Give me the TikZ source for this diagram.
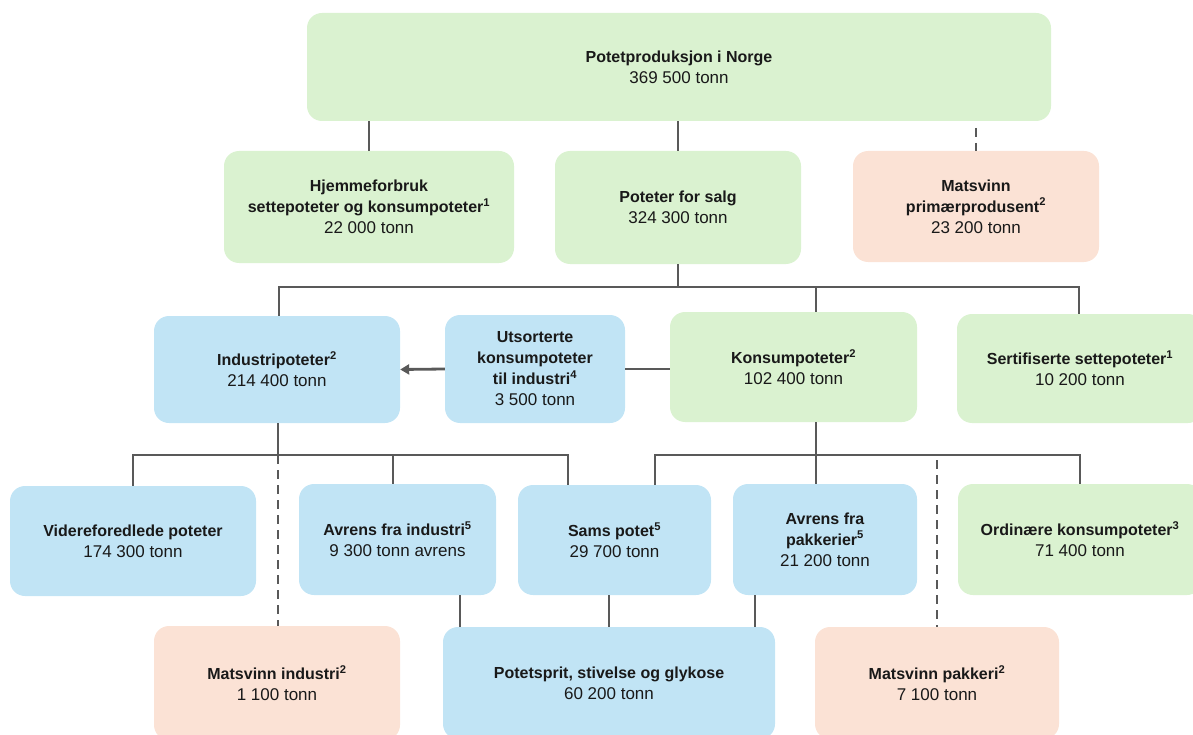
\documentclass[tikz,border=0pt]{standalone}
\usepackage{fontspec}
\setmainfont{Liberation Sans}
\usetikzlibrary{arrows.meta,calc}
\definecolor{gfill}{HTML}{DAF2D0}
\definecolor{bfill}{HTML}{C1E4F5}
\definecolor{ofill}{HTML}{FBE2D5}
\definecolor{lin}{HTML}{595959}
\newcommand{\msup}[1]{\textsuperscript{#1}}
\newcommand{\val}[1]{{\fontsize{17}{21}\selectfont #1}}
\begin{document}
\begin{tikzpicture}[x=1pt,y=-1pt,
  box/.style={rectangle, rounded corners=15pt, inner sep=0pt, align=center,
    font=\fontsize{16}{21}\selectfont, text=black!90},
  gbx/.style={box, fill=gfill},
  bbx/.style={box, fill=bfill},
  obx/.style={box, fill=ofill},
  conn/.style={draw=lin, line width=2.8pt},
  dconn/.style={conn, dash pattern=on 9pt off 6pt}]
\useasboundingbox (0,0) rectangle (1193,735);
\clip (0,0) rectangle (1193,735);

% row 1
\node[gbx, minimum width=744pt, minimum height=108pt] (top) at (679,67)
  {\textbf{Potetproduksjon i Norge}\\\val{369 500 tonn}};
% row 2
\node[gbx, minimum width=290pt, minimum height=112pt] (hjem) at (369,207)
  {\textbf{Hjemmeforbruk}\\\textbf{settepoteter og konsumpoteter\msup{1}}\\\val{22 000 tonn}};
\node[gbx, minimum width=246pt, minimum height=113pt] (salg) at (678,207.5)
  {\textbf{Poteter for salg}\\\val{324 300 tonn}};
\node[obx, minimum width=246pt, minimum height=111pt] (msprim) at (976,206.5)
  {\textbf{Matsvinn}\\\textbf{primærprodusent\msup{2}}\\\val{23 200 tonn}};
% row 3
\node[bbx, minimum width=246pt, minimum height=107pt] (indu) at (277,369.5)
  {\textbf{Industripoteter\msup{2}}\\\val{214 400 tonn}};
\node[bbx, minimum width=180pt, minimum height=108pt] (utsort) at (535,369)
  {\textbf{Utsorterte}\\\textbf{konsumpoteter}\\\textbf{til industri\msup{4}}\\\val{3 500 tonn}};
\node[gbx, minimum width=247pt, minimum height=110pt] (kons) at (793.5,367)
  {\textbf{Konsumpoteter\msup{2}}\\\val{102 400 tonn}};
\node[gbx, minimum width=246pt, minimum height=109pt] (sert) at (1080,368.5)
  {\textbf{Sertifiserte settepoteter\msup{1}}\\\val{10 200 tonn}};
% row 4
\node[bbx, minimum width=246pt, minimum height=110pt] (vide) at (133,541)
  {\textbf{Videreforedlede poteter}\\\val{174 300 tonn}};
\node[bbx, minimum width=197pt, minimum height=111pt] (avind) at (397.5,539.5)
  {\textbf{Avrens fra industri\msup{5}}\\\val{9 300 tonn avrens}};
\node[bbx, minimum width=193pt, minimum height=110pt] (sams) at (614.5,540)
  {\textbf{Sams potet\msup{5}}\\\val{29 700 tonn}};
\node[bbx, minimum width=184pt, minimum height=111pt] (avpak) at (825,539.5)
  {\textbf{Avrens fra}\\\textbf{pakkerier\msup{5}}\\\val{21 200 tonn}};
\node[gbx, minimum width=244pt, minimum height=111pt] (ordi) at (1080,539.5)
  {\textbf{Ordinære konsumpoteter\msup{3}}\\\val{71 400 tonn}};
% row 5
\node[obx, minimum width=246pt, minimum height=114pt] (msind) at (277,683)
  {\textbf{Matsvinn industri\msup{2}}\\\val{1 100 tonn}};
\node[bbx, minimum width=332pt, minimum height=112pt] (potet) at (609,683)
  {\textbf{Potetsprit, stivelse og glykose}\\\val{60 200 tonn}};
\node[obx, minimum width=244pt, minimum height=112pt] (mspak) at (937,683)
  {\textbf{Matsvinn pakkeri\msup{2}}\\\val{7 100 tonn}};

% connectors row1 -> row2
\draw[conn] (top.south -| hjem.north) -- (hjem.north);
\draw[conn] (top.south -| salg.north) -- (salg.north);
\coordinate (dp) at (976,128);
\draw[dconn] (dp) -- (msprim.north);

% salg bus
\coordinate (sb) at (678,287);
\coordinate (sbL) at (279,287);
\coordinate (sbM) at (816,287);
\coordinate (sbR) at (1079,287);
\draw[conn] (salg.south) -- (sb);
\draw[conn] (indu.north -| sbL) -- (sbL) -- (sbR) -- (sert.north -| sbR);
\draw[conn] (sbM) -- (kons.north -| sbM);

% horizontal links row 3
\draw[conn, -{Triangle[length=9pt,width=10pt]}] (utsort.west) -- (indu.east);
\draw[conn] (utsort.east) -- (utsort.east -| kons.west);

% industri bus
\coordinate (ib) at (278,455);
\coordinate (ibL) at (133,455);
\coordinate (ibM) at (393,455);
\coordinate (ibR) at (568,455);
\draw[conn] (indu.south -| ib) -- (ib);
\draw[conn] (vide.north -| ibL) -- (ibL) -- (ibR) -- (sams.north -| ibR);
\draw[conn] (ibM) -- (avind.north -| ibM);
\draw[dconn] (ib) -- (msind.north -| ib);

% konsum bus
\coordinate (kb) at (816,455);
\coordinate (kbL) at (655,455);
\coordinate (kbR) at (1080,455);
\draw[conn] (kons.south -| kb) -- (kb);
\draw[conn] (sams.north -| kbL) -- (kbL) -- (kbR) -- (ordi.north -| kbR);
\draw[conn] (kb) -- (avpak.north -| kb);
\coordinate (kd) at (937,460);
\draw[dconn] (kd) -- (mspak.north);

% to potetsprit
\coordinate (p1) at (460,0);
\coordinate (p2) at (609,0);
\coordinate (p3) at (755,0);
\draw[conn] (avind.south -| p1) -- (potet.north -| p1);
\draw[conn] (sams.south -| p2) -- (potet.north -| p2);
\draw[conn] (avpak.south -| p3) -- (potet.north -| p3);
\end{tikzpicture}
\end{document}
